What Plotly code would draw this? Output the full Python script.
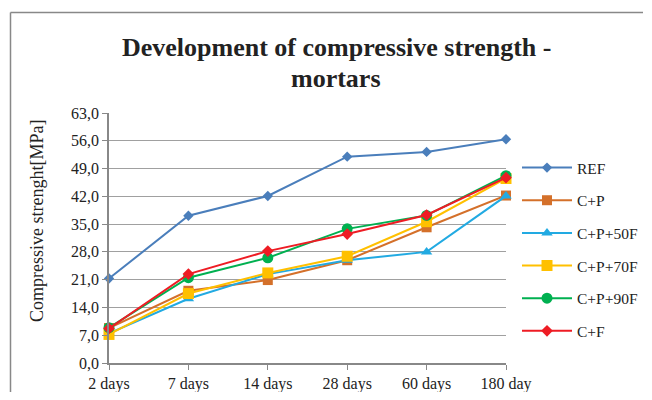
import plotly.graph_objects as go

categories = ["2 days", "7 days", "14 days", "28 days", "60 days", "180 day"]
series_names = ["REF", "C+P", "C+P+50F", "C+P+70F", "C+P+90F", "C+F"]
ref = [21.3, 37.1, 42.1, 52.0, 53.2, 56.4]
cp = [8.8, 18.2, 20.9, 25.9, 34.2, 42.2]
cp50f = [7.5, 16.2, 22.4, 25.9, 28.0, 42.1]
cp70f = [7.2, 17.5, 22.7, 26.9, 35.6, 46.5]
cp90f = [8.9, 21.5, 26.5, 33.8, 37.2, 47.2]
cf = [8.7, 22.4, 28.2, 32.5, 37.3, 46.7]
ytick_vals = [0, 7, 14, 21, 28, 35, 42, 49, 56, 63]
ytick_text = ["0,0", "7,0", "14,0", "21,0", "28,0", "35,0", "42,0", "49,0", "56,0", "63,0"]

values = [ref, cp, cp50f, cp70f, cp90f, cf]
colors = ["#4A7EBB", "#D4702A", "#22AAE2", "#FFC000", "#00B050", "#EE1C24"]
symbols = ["diamond", "square", "triangle-up", "square", "circle", "diamond"]
sizes = [8, 10, 10, 11, 11, 9]

# page body has an 8px margin on every side; size the figure so the page
# fits the 652x400 window exactly, and work in reference pixel coords
OFF = 8
W, H = 652 - 2 * OFF, 400 - 2 * OFF
L, T = 109 - OFF, 113 - OFF
PW, PH = 506 - 109, 363 - 113
R = W - L - PW
B = H - T - PH
PX0, PY0 = 109, 363  # plot origin in reference coords


def px(x):
    return (x - PX0) / PW


def py(y):
    return (PY0 - y) / PH


fig = go.Figure()
for i, (name, vals) in enumerate(zip(series_names, values)):
    fig.add_trace(go.Scatter(
        x=categories, y=vals, name=name, mode="lines+markers",
        line=dict(color=colors[i], width=2),
        marker=dict(symbol=symbols[i], size=sizes[i], color=colors[i]),
        cliponaxis=False, legendgroup=name,
    ))

font_family = "Liberation Serif"
border = dict(color="#888", width=1.5)
fig.update_layout(
    width=W, height=H,
    margin=dict(l=L, r=R, t=T, b=B, autoexpand=False),
    paper_bgcolor="white", plot_bgcolor="white",
    font=dict(family=font_family, size=16, color="#222"),
    showlegend=True,
    legend=dict(
        x=px(517), y=py(151), xanchor="left", yanchor="top",
        font=dict(family=font_family, size=15.5, color="#222"),
        traceorder="grouped", tracegroupgap=9.5, itemwidth=50,
        bgcolor="rgba(0,0,0,0)",
    ),
    xaxis=dict(
        type="category", range=[0, 5], showgrid=False,
        showline=True, linecolor="#888", linewidth=1.5,
        ticks="outside", ticklen=5, tickcolor="#888",
        tickfont=dict(family=font_family, size=16, color="#222"),
        zeroline=False,
    ),
    yaxis=dict(
        range=[0, 63], tickvals=ytick_vals, ticktext=ytick_text,
        showgrid=True, gridcolor="#A0A0A0", gridwidth=1,
        showline=True, linecolor="#888", linewidth=1.5,
        ticks="outside", ticklen=5, tickcolor="#888",
        tickfont=dict(family=font_family, size=16, color="#222"),
        zeroline=False,
    ),
    annotations=[
        dict(text="<b>Development of compressive strength -</b>",
             xref="paper", yref="paper", x=px(336), y=py(47),
             xanchor="center", yanchor="middle", showarrow=False,
             font=dict(family=font_family, size=26, color="#222")),
        dict(text="<b>mortars</b>",
             xref="paper", yref="paper", x=px(336), y=py(78),
             xanchor="center", yanchor="middle", showarrow=False,
             font=dict(family=font_family, size=26, color="#222")),
        dict(text="Compressive strenght[MPa]",
             xref="paper", yref="paper", x=px(37), y=py(221),
             xanchor="center", yanchor="middle", showarrow=False, textangle=-90,
             font=dict(family=font_family, size=18, color="#222")),
    ],
    shapes=[
        dict(type="line", xref="paper", yref="paper",
             x0=px(10.5), x1=px(643), y0=py(12.5), y1=py(12.5),
             line=border, layer="below"),
        dict(type="line", xref="paper", yref="paper",
             x0=px(10.5), x1=px(10.5), y0=py(12.5), y1=py(399),
             line=border, layer="below"),
    ],
)

fig.write_html("out.html")
